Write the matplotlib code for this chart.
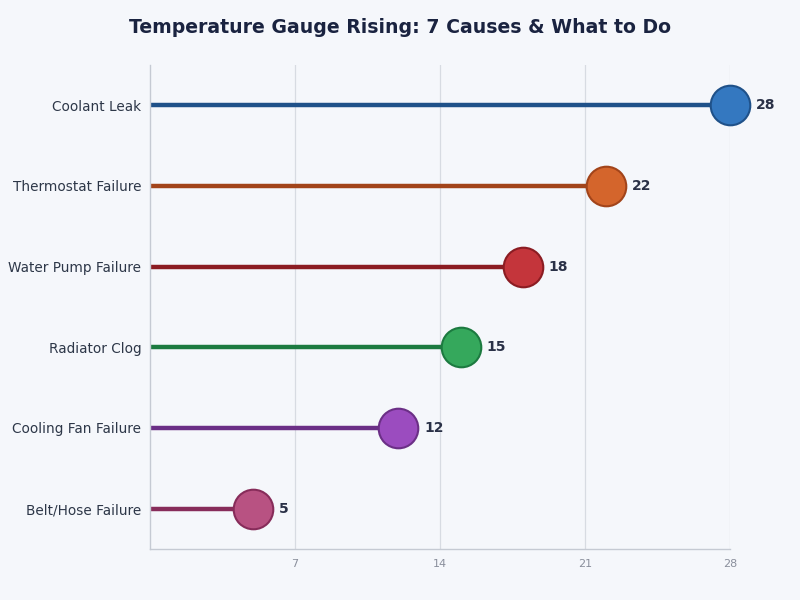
import matplotlib
matplotlib.use("Agg")
import matplotlib.pyplot as plt

causes = ["Coolant Leak", "Thermostat Failure", "Water Pump Failure",
          "Radiator Clog", "Cooling Fan Failure", "Belt/Hose Failure"]
values = [28, 22, 18, 15, 12, 5]
fill_colors = ["#3478c0", "#d4652c", "#c4353b", "#35a85c", "#9b4cbf", "#b85282"]
dark_colors = ["#1f5189", "#a2441a", "#8b1c22", "#1c7a40", "#6b2f86", "#872c5a"]
xticks = [7, 14, 21, 28]

BG = "#f5f7fb"

fig, ax = plt.subplots(figsize=(8, 6), dpi=100)
fig.patch.set_facecolor(BG)
ax.set_facecolor(BG)

n = len(causes)
ypos = [n - 1 - i for i in range(n)]

for y, v, fc, dc in zip(ypos, values, fill_colors, dark_colors):
    ax.plot([0, v], [y, y], color=dc, linewidth=3.2, solid_capstyle="butt", zorder=2)
    ax.plot(v, y, "o", markersize=28.5, markerfacecolor=fc, markeredgecolor=dc,
            markeredgewidth=1.5, zorder=3, clip_on=False)
    ax.text(v + 1.25, y, str(v), va="center", ha="left", fontsize=10,
            fontweight="bold", color="#2a3147")

ax.set_yticks(ypos)
ax.set_yticklabels(causes, fontsize=9.8, color="#2d3748")
ax.set_xticks(xticks)
ax.set_xticklabels([str(t) for t in xticks], fontsize=8, color="#8a8f9c")
ax.tick_params(axis="both", length=0)
ax.tick_params(axis="x", pad=7)
ax.tick_params(axis="y", pad=6)
ax.set_xlim(0, 28)
ax.set_ylim(-0.5, n - 0.5)

ax.grid(axis="x", color="#d7dbe2", linewidth=0.9)
ax.set_axisbelow(True)
for s in ["top", "right"]:
    ax.spines[s].set_visible(False)
for s in ["left", "bottom"]:
    ax.spines[s].set_color("#c5cad3")
    ax.spines[s].set_linewidth(1.0)

fig.suptitle("Temperature Gauge Rising: 7 Causes & What to Do", fontsize=13.6,
             fontweight="bold", color="#1a2340", y=0.97)

fig.subplots_adjust(left=0.187, right=0.9125, top=0.892, bottom=0.085)
fig.savefig("out.png", dpi=100, facecolor=BG)
